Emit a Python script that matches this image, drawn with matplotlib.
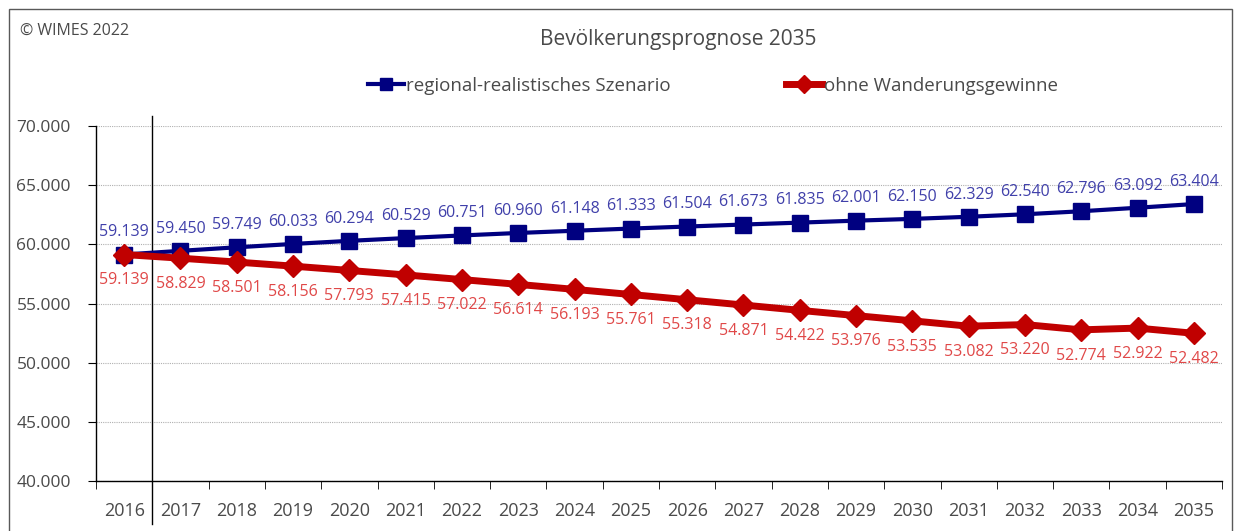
import matplotlib
matplotlib.use("Agg")
import matplotlib.pyplot as plt
from matplotlib.patches import Rectangle
from matplotlib.ticker import FixedLocator, FuncFormatter

years = [str(y) for y in range(2016, 2036)]
regional = [59139, 59450, 59749, 60033, 60294, 60529, 60751, 60960, 61148, 61333,
            61504, 61673, 61835, 62001, 62150, 62329, 62540, 62796, 63092, 63404]
ohne = [59139, 58829, 58501, 58156, 57793, 57415, 57022, 56614, 56193, 55761,
        55318, 54871, 54422, 53976, 53535, 53082, 53220, 52774, 52922, 52482]
yticks = [40000, 45000, 50000, 55000, 60000, 65000, 70000]
title = "Bevölkerungsprognose 2035"
name_reg = "regional-realistisches Szenario"
name_ohne = "ohne Wanderungsgewinne"

plt.rcParams['font.family'] = ['Open Sans', 'DejaVu Sans']
W, H = 1236, 531
fig = plt.figure(figsize=(W / 100, H / 100), dpi=100)
L, R, T, B = 96, 1222, 126, 481
ax = fig.add_axes([L / W, 1 - B / H, (R - L) / W, (B - T) / H])

txt = '#4a4a4a'
blue, red = '#000080', '#c00000'
blue_lab, red_lab = '#4040aa', '#e04848'

x = list(range(len(years)))
ax.plot(x, regional, color=blue, lw=3, marker='s', ms=11, zorder=3, label=name_reg)
ax.plot(x, ohne, color=red, lw=5, marker='D', ms=11, zorder=4, label=name_ohne)

fmt = lambda v: f"{v:,}".replace(",", ".")
for i, v in enumerate(regional):
    ax.annotate(fmt(v), (i, v), xytext=(0, 16), textcoords='offset points',
                ha='center', va='center', color=blue_lab, fontsize=11.5)
for i, v in enumerate(ohne):
    ax.annotate(fmt(v), (i, v), xytext=(0, -18.5), textcoords='offset points',
                ha='center', va='center', color=red_lab, fontsize=11.5)

ax.set_xlim(-0.5, len(years) - 0.5)
ax.set_ylim(40000, 70000)
ax.set_yticks(yticks)
ax.yaxis.set_major_formatter(FuncFormatter(lambda v, p: fmt(int(v))))
ax.set_xticks(x)
ax.set_xticklabels(years)
ax.xaxis.set_minor_locator(FixedLocator([i + 0.5 for i in range(-1, len(years))]))
ax.tick_params(axis='x', which='major', length=0, pad=15, labelsize=13, labelcolor=txt)
ax.tick_params(axis='x', which='minor', length=6, direction='out', color='black')
ax.tick_params(axis='y', length=6, direction='out', pad=12, labelsize=12.5, labelcolor=txt)
ax.grid(axis='y', color='#b0b0b0', lw=0.8, ls=(0, (1, 1)))
ax.set_axisbelow(True)
for s in ['top', 'right']:
    ax.spines[s].set_visible(False)
for s in ['left', 'bottom']:
    ax.spines[s].set_color('black')
    ax.spines[s].set_linewidth(1)

# vertical separator between 2016 and 2017
ax.plot([0.5, 0.5], [(B - 524) / (B - T), (B - 116) / (B - T)], color='black', lw=1,
        transform=ax.get_xaxis_transform(), clip_on=False, zorder=2)

fig.text(678 / W, 1 - 40 / H, title, ha='center', va='center', fontsize=15, color=txt)
fig.text(20 / W, 1 - 31 / H, "© WIMES 2022", ha='left', va='center', fontsize=11.5, color=txt)

leg = fig.legend(loc='center left', bbox_to_anchor=(368 / W, 1 - 86 / H), ncol=2, frameon=False,
                 fontsize=13.5, handlelength=1.9, handletextpad=0.1, columnspacing=6.2,
                 labelcolor=txt, markerscale=0.8, borderaxespad=0, borderpad=0)

fig.patches.append(Rectangle((9 / W, -0.01), (1232 - 9) / W, 1 - 9 / H + 0.01,
                             transform=fig.transFigure, fill=False, ec='#595959', lw=1))

fig.savefig("out.png", dpi=100, facecolor='white')
